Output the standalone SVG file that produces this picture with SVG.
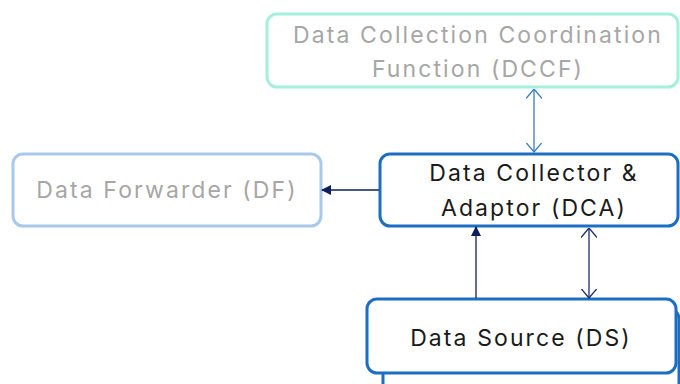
<svg xmlns="http://www.w3.org/2000/svg" width="680" height="384" viewBox="0 0 680 384">
<style>
.t{font-family:Inter,"Noto Sans","Liberation Sans",sans-serif;font-size:23px;letter-spacing:2.1px;text-anchor:middle}
.g{fill:#a6a6a6}
.k{fill:#1a1a1a}
.box{fill:#fff;stroke-width:3}
.ln{fill:none;stroke-width:1.3}
</style>
<defs>
<marker id="fill" viewBox="0 0 10 10" refX="9" refY="5" markerWidth="10" markerHeight="10" markerUnits="userSpaceOnUse" orient="auto">
<path d="M0,0 L10,5 L0,10 z" fill="#0d1f5c"/>
</marker>
<marker id="openL" viewBox="0 0 10 16" refX="9.5" refY="8" markerWidth="10" markerHeight="16" markerUnits="userSpaceOnUse" orient="auto-start-reverse">
<path d="M0,0 L9.5,8 L0,16" fill="none" stroke="#3a7cc0" stroke-width="1.3"/>
</marker>
<marker id="openN" viewBox="0 0 10 16" refX="9.5" refY="8" markerWidth="10" markerHeight="16" markerUnits="userSpaceOnUse" orient="auto-start-reverse">
<path d="M0,0 L9.5,8 L0,16" fill="none" stroke="#1a2a6c" stroke-width="1.3"/>
</marker>
</defs>
<rect width="680" height="384" fill="#fff"/>
<g id="dccf">
<rect class="box" x="267" y="14" width="411" height="73" rx="10" stroke="#a4f0da"/>
<text class="t g" x="478" y="43">Data Collection Coordination</text>
<text class="t g" x="478" y="77">Function (DCCF)</text>
</g>
<g id="df">
<rect class="box" x="13" y="154" width="308" height="72" rx="10" stroke="#a9c9ea"/>
<text class="t g" x="167" y="198">Data Forwarder (DF)</text>
</g>
<g id="dca">
<rect class="box" x="380" y="154" width="298" height="72" rx="10" stroke="#1b6ec2"/>
<text class="t k" x="534" y="181">Data Collector &amp;</text>
<text class="t k" x="534" y="216">Adaptor (DCA)</text>
</g>
<g id="ds">
<rect class="box" x="383" y="309" width="296" height="90" rx="10" stroke="#1b6ec2"/>
<rect class="box" x="367" y="299" width="309" height="74" rx="10" stroke="#1b6ec2"/>
<text class="t k" x="521" y="346">Data Source (DS)</text>
</g>
<g id="connectors">
<line class="ln" x1="534" y1="89" x2="534" y2="152" stroke="#3a7cc0" marker-start="url(#openL)" marker-end="url(#openL)"/>
<line class="ln" x1="379" y1="190" x2="322" y2="190" stroke="#0d1f5c" marker-end="url(#fill)"/>
<line class="ln" x1="476" y1="298" x2="476" y2="227" stroke="#0d1f5c" marker-end="url(#fill)"/>
<line class="ln" x1="589" y1="228" x2="589" y2="298" stroke="#1a2a6c" marker-start="url(#openN)" marker-end="url(#openN)"/>
</g>
</svg>
